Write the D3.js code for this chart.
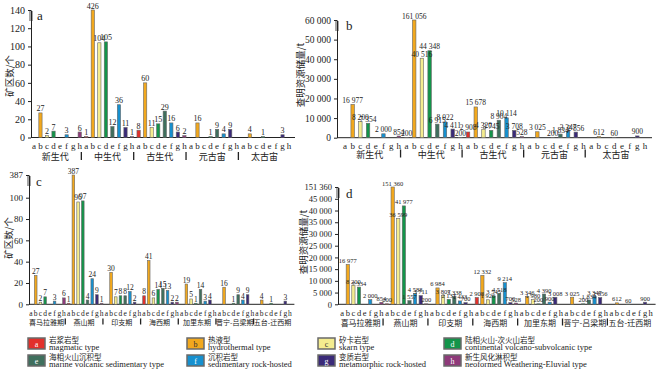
<!DOCTYPE html>
<html>
<head>
<meta charset="utf-8">
<script src="https://cdn.jsdelivr.net/npm/d3@7"></script>
<style>
  body { margin: 0; background: #fff; }
  text { font-family: "Liberation Serif", "Times New Roman", serif; fill: #222; }
  .cjk { font-family: "Noto Sans CJK SC", sans-serif; }
</style>
</head>
<body>
<svg width="657" height="369"></svg>
<script>
/* global d3 */
var svg = d3.select('svg')

// deposit types a-h
var types = ['a', 'b', 'c', 'd', 'e', 'f', 'g', 'h']
var typeColors = ['#e2302b', '#f2a81d', '#f4ec8f', '#13944a', '#3f6f5d', '#1690cf', '#3a2a78', '#8e3a7a']
var typeNames = ['岩浆岩型', '热液型', '矽卡岩型', '陆相火山-次火山岩型', '海相火山沉积型', '沉积岩型', '变质岩型', '新生风化淋积型']
var typeNamesEn = ['magmatic type', 'hydrothermal type', 'skarn type', 'continental volcano-subvolcanic type',
  'marine volcanic sedimentary type', 'sedimentary rock-hosted', 'metamorphic rock-hosted', 'neoformed Weathering-Eluvial type']

var eras = ['新生代', '中生代', '古生代', '元古宙', '太古宙']
var periods = ['喜马拉雅期', '燕山期', '印支期', '海西期', '加里东期', '晋宁-吕梁期', '五台-迁西期']

// a: number of ore districts by era
var eraCount = [
  [null, 27, 2, 7, null, 3, null, 6],
  [1, 426, 104, 105, 12, 36, 11, 1],
  [8, 60, 11, 15, 29, 16, 6, 2],
  [null, 16, null, 1, 9, 4, 9, null],
  [null, 4, null, 1, null, null, 3, null]
]
// b: proven reserves (t) by era
var eraReserve = [
  [null, 16977, 8200, 7354, null, 2000, null, 854],
  [200, 161056, 40516, 44348, 6915, 8022, 4411, 200],
  [2908, 15678, 4320, 3745, 8904, 10114, 3708, 528],
  [null, 3025, null, 200, 1834, 3347, 2856, null],
  [null, 612, null, 60, null, null, 900, null]
]
// c: number of ore districts by tectonic period
var periodCount = [
  [null, 27, 2, 7, null, 3, null, 6],
  [1, 387, 96, 97, 4, 24, 9, 1],
  [null, 30, 7, 8, 8, 12, 2, null],
  [8, 41, 6, 14, 15, 13, 2, 2],
  [null, 19, 5, 1, 14, 3, 4, null],
  [null, 16, null, 1, 9, 4, 9, null],
  [null, 4, null, 1, null, null, 3, null]
]
// d: proven reserves (t) by tectonic period
var periodReserve = [
  [null, 16977, 8200, 7334, null, 2000, null, 854],
  [200, 151360, 36599, 41977, 1557, 4588, 3711, 200],
  [null, 6984, 3807, 2137, 3338, 1433, 700, null],
  [2908, 12332, 1926, 3545, 4518, 9214, 700, 528],
  [null, 3346, 1980, 200, 4390, 900, 3008, null],
  [null, 3025, null, 200, 1834, 3347, 2856, null],
  [null, 612, null, 60, null, null, 900, null]
]

var countTicksA = [0, 20, 40, 60, 80, 100, 120, 140]
var reserveTicksB = [0, 10000, 20000, 30000, 40000, 50000, 60000]
var countTicksC = [0, 20, 40, 60, 80, 100, 387]
var reserveTicksD = [0, 5000, 10000, 15000, 20000, 25000, 30000, 35000, 40000, 45000, 151360]

var numFmt = d3.formatLocale({ decimal: '.', thousands: ' ', grouping: [3], currency: ['', ''] }).format(',')

var panels = [
  {
    name: 'a', data: eraCount, groups: eras, range: [29, 294], pad: 0.5, axisX: 31,
    y: d3.scaleLinear().domain([0, 140]).range([137.5, 10]).clamp(true), ticks: countTicksA,
    tickFont: 10, valFont: 8, letterY: 148.5, letterFont: 9, groupY: 160, groupFont: 9,
    nameX: 37, nameY: 20, title: '矿区数/个', titleX: 10, titleY: 76
  },
  {
    name: 'b', data: eraReserve, groups: eras, range: [339, 651], pad: 0.55, axisX: 337,
    y: d3.scaleLinear().domain([0, 60000]).range([137.7, 20]).clamp(true), ticks: reserveTicksB,
    tickFont: 9.5, valFont: 7.5, letterY: 148.5, letterFont: 9, groupY: 157.5, groupFont: 9,
    nameX: 346, nameY: 30, title: '查明资源储量/t', titleX: 301, titleY: 75
  },
  {
    name: 'c', data: periodCount, groups: periods, range: [27.6, 293.4], pad: 0.45, axisX: 29,
    y: d3.scaleLinear().domain([0, 100, 387]).range([304.3, 197.7, 175]), ticks: countTicksC,
    tickFont: 9, valFont: 7.5, letterY: 315.5, letterFont: 7.5, groupY: 324.5, groupFont: 7,
    nameX: 36, nameY: 186, title: '矿区数/个', titleX: 9, titleY: 238
  },
  {
    name: 'd', data: periodReserve, groups: periods, range: [338.2, 654.6], pad: 0.42, axisX: 338,
    y: d3.scaleLinear().domain([0, 45000, 151360]).range([304.3, 198.8, 187]), ticks: reserveTicksD,
    tickFont: 8.5, valFont: 6.5, letterY: 315.5, letterFont: 8.5, groupY: 325.5, groupFont: 8,
    nameX: 346, nameY: 198, title: '查明资源储量/t', titleX: 304, titleY: 242
  }
]

panels.forEach(drawPanel)

function drawPanel (p) {
  var g = svg.append('g')
  var slots = d3.range(p.groups.length * 8)
  var x = d3.scaleBand().domain(slots).range(p.range).padding(p.pad)
  var y0 = p.y(0)
  var rows = []
  p.data.forEach(function (vals, gi) {
    vals.forEach(function (v, ti) {
      if (v !== null) rows.push({ slot: gi * 8 + ti, type: ti, value: v })
    })
  })

  // y axis
  var axis = g.append('g')
    .attr('transform', 'translate(' + p.axisX + ',0)')
    .call(d3.axisLeft(p.y).tickValues(p.ticks).tickSize(3).tickSizeOuter(0)
      .tickFormat(function (d) { return numFmt(d) }))
  axis.selectAll('text').style('font-size', p.tickFont + 'px')
  axis.select('.domain').attr('stroke', '#222')
  axis.selectAll('.tick line').attr('stroke', '#222')

  // axis break marks at the top
  var top = p.y.range()[p.y.range().length - 1]
  g.selectAll('.brk').data(d3.range(5)).enter().append('line')
    .attr('x1', p.axisX - 2).attr('x2', p.axisX + 2)
    .attr('y1', function (d) { return top + 2 + d * 2 })
    .attr('y2', function (d) { return top + 2 + d * 2 })
    .attr('stroke', '#222').attr('stroke-width', 0.8)

  // baseline
  g.append('line')
    .attr('x1', p.axisX).attr('x2', p.range[1] + 1)
    .attr('y1', y0).attr('y2', y0)
    .attr('stroke', '#222')

  // bars
  g.selectAll('rect.bar').data(rows).enter().append('rect')
    .attr('class', 'bar')
    .attr('x', function (d) { return x(d.slot) })
    .attr('width', x.bandwidth())
    .attr('y', function (d) { return p.y(d.value) })
    .attr('height', function (d) { return y0 - p.y(d.value) })
    .attr('fill', function (d) { return typeColors[d.type] })
    .attr('stroke', '#666')
    .attr('stroke-width', 0.6)

  g.selectAll('text.val').data(rows).enter().append('text')
    .attr('class', 'val')
    .attr('x', function (d) { return x(d.slot) + x.bandwidth() / 2 })
    .attr('y', function (d) { return p.y(d.value) - 1.5 })
    .attr('text-anchor', 'middle')
    .style('font-size', p.valFont + 'px')
    .text(function (d) { return numFmt(d.value) })

  // a-h letters
  g.selectAll('text.let').data(slots).enter().append('text')
    .attr('class', 'let')
    .attr('x', function (d) { return x(d) + x.bandwidth() / 2 })
    .attr('y', p.letterY)
    .attr('text-anchor', 'middle')
    .style('font-size', p.letterFont + 'px')
    .text(function (d) { return types[d % 8] })

  // group names and separators
  var step = x.step()
  g.selectAll('text.grp').data(p.groups).enter().append('text')
    .attr('class', 'grp cjk')
    .attr('x', function (d, i) { return p.range[0] + step * (i * 8 + 4) })
    .attr('y', p.groupY)
    .attr('text-anchor', 'middle')
    .style('font-size', p.groupFont + 'px')
    .text(function (d) { return d })

  g.selectAll('line.sep').data(d3.range(1, p.groups.length)).enter().append('line')
    .attr('class', 'sep')
    .attr('x1', function (d) { return p.range[0] + step * d * 8 })
    .attr('x2', function (d) { return p.range[0] + step * d * 8 })
    .attr('y1', p.groupY - p.groupFont + 1)
    .attr('y2', p.groupY)
    .attr('stroke', '#222').attr('stroke-width', 1.3)

  // panel letter and y title
  g.append('text')
    .attr('x', p.nameX).attr('y', p.nameY)
    .style('font-size', '13px')
    .text(p.name)

  g.append('text')
    .attr('class', 'cjk')
    .attr('transform', 'translate(' + p.titleX + ',' + p.titleY + ') rotate(-90)')
    .attr('text-anchor', 'middle')
    .attr('dy', '0.35em')
    .style('font-size', '9.5px')
    .text(p.title)
}

// legend
var legendX = [28, 187, 318, 444]
var legendY = [337, 354]
var leg = svg.append('g').selectAll('g').data(types).enter().append('g')
  .attr('transform', function (d, i) {
    return 'translate(' + legendX[i % 4] + ',' + legendY[Math.floor(i / 4)] + ')'
  })

leg.append('rect')
  .attr('width', 17).attr('height', 11).attr('y', 1)
  .attr('fill', function (d, i) { return typeColors[i] })
  .attr('stroke', '#6a6a6a').attr('stroke-width', 1.5)

leg.append('text')
  .attr('x', 8.5).attr('y', 9.5)
  .attr('text-anchor', 'middle')
  .style('font-size', '8px')
  .style('fill', function (d, i) { return (i === 1 || i === 2) ? '#333' : '#fff' })
  .text(function (d) { return d })

leg.append('text')
  .attr('class', 'cjk')
  .attr('x', 21).attr('y', 6)
  .style('font-size', '7.5px')
  .text(function (d, i) { return typeNames[i] })

leg.append('text')
  .attr('x', 21).attr('y', 13)
  .style('font-size', '8.5px')
  .text(function (d, i) { return typeNamesEn[i] })
</script>
</body>
</html>
